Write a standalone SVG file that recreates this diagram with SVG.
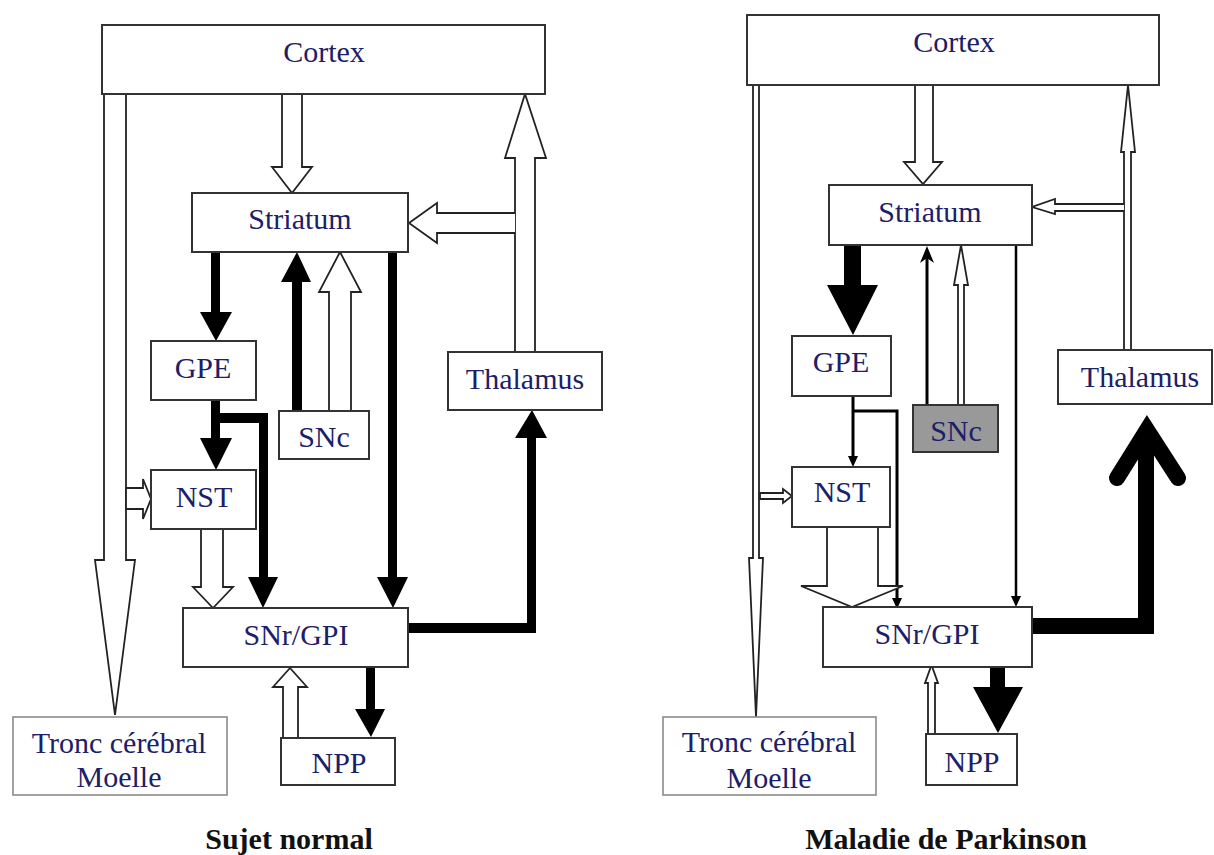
<svg xmlns="http://www.w3.org/2000/svg" width="1214" height="855" viewBox="0 0 1214 855">
<style>
.box{fill:#fff;stroke:#333;stroke-width:2}
.grey{fill:#999;stroke:#333;stroke-width:2}
.tronc{fill:#fff;stroke:#8a8a8a;stroke-width:1.6}
.lbl{font-family:"Liberation Serif","Times New Roman",serif;font-size:30px;fill:#1c2068;text-anchor:middle}
.cap{font-family:"Liberation Serif","Times New Roman",serif;font-size:30px;font-weight:bold;fill:#111;text-anchor:middle}
.hol{fill:#fff;stroke:#222;stroke-width:1.8;stroke-linejoin:miter}
.blk{fill:#000;stroke:none}
.thin{fill:none;stroke:#000;stroke-width:3}
.thin2{fill:none;stroke:#000;stroke-width:2.5}
</style>
<rect width="1214" height="855" fill="#fff"/>

<!-- ===== Left diagram: Sujet normal ===== -->
<g id="connectors-left">
  <polygon class="hol" points="282,94 282,167 272,167 292,193 312,167 302,167 302,94"/>
  <polygon class="hol" points="104,94 104,560 95,560 115,715 135,560 126,560 126,94"/>
  <polygon class="hol" points="126,488 143,488 143,479 151,499 143,519 143,509 126,509"/>
  <polygon class="blk" points="211,252 220,252 220,312 232,312 216,341 200,312 211,312"/>
  <polygon class="blk" points="211,400 220,400 220,438 232,438 216,470 200,438 211,438"/>
  <polygon class="blk" points="216,413 268,413 268,577 278,577 263,608 248,577 259,577 259,423 216,423"/>
  <polygon class="hol" points="201,529 201,587 193,587 213,608 233,587 223,587 223,529"/>
  <polygon class="blk" points="388,252 397,252 397,577 408,577 393,608 377,577 388,577"/>
  <polygon class="blk" points="292,411 292,282 281,282 297,252 311,282 302,282 302,411"/>
  <polygon class="hol" points="329,411 329,292 319,292 340,252 361,292 351,292 351,411"/>
  <polygon class="hol" points="515,352 515,158 505,158 525,94 546,158 535,158 535,352"/>
  <path class="hol" d="M515,213 L437,213 L437,203 L409,223 L437,243 L437,233 L515,233"/>
  <polygon class="blk" points="408,623 527,623 527,438 515,438 532,410 547,438 536,438 536,633 408,633"/>
  <polygon class="blk" points="366,667 375,667 375,709 385,709 371,737 355,709 366,709"/>
  <polygon class="hol" points="283,738 283,687 273,687 290,668 307,687 298,687 298,738"/>
</g>

<g id="L-cortex"><rect class="box" x="102" y="25" width="443" height="69"/><text class="lbl" x="324" y="62">Cortex</text></g>
<g id="L-striatum"><rect class="box" x="192" y="193" width="216" height="59"/><text class="lbl" x="300" y="229">Striatum</text></g>
<g id="L-gpe"><rect class="box" x="151" y="341" width="105" height="59"/><text class="lbl" x="203" y="378">GPE</text></g>
<g id="L-nst"><rect class="box" x="151" y="470" width="105" height="59"/><text class="lbl" x="204" y="507">NST</text></g>
<g id="L-snc"><rect class="box" x="279" y="411" width="90" height="48"/><text class="lbl" x="324" y="447">SNc</text></g>
<g id="L-thalamus"><rect class="box" x="448" y="352" width="154" height="58"/><text class="lbl" x="525" y="389">Thalamus</text></g>
<g id="L-snrgpi"><rect class="box" x="183" y="608" width="225" height="59"/><text class="lbl" x="296" y="645">SNr/GPI</text></g>
<g id="L-npp"><rect class="box" x="281" y="738" width="114" height="47"/><text class="lbl" x="339" y="773">NPP</text></g>
<g id="L-tronc"><rect class="tronc" x="13" y="717" width="214" height="78"/><text class="lbl" x="119" y="753">Tronc cérébral</text><text class="lbl" x="119" y="787">Moelle</text></g>
<g id="L-caption"><text class="cap" x="289" y="849">Sujet normal</text></g>

<!-- ===== Right diagram: Maladie de Parkinson ===== -->
<g id="connectors-right">
  <polygon class="hol" points="915,85 915,162 904,162 923,184 942,162 933,162 933,85"/>
  <polygon class="hol" points="753,85 753,558 749,558 756,717 763,558 759,558 759,85"/>
  <polygon class="hol" points="760,493 783,493 783,489 792,496 783,503 783,499 760,499"/>
  <polygon class="blk" points="844,245 861,245 861,285 878,285 853,335 827,285 844,285"/>
  <line class="thin" x1="853" y1="396" x2="853" y2="458"/>
  <polygon class="blk" points="848,456 858,456 853,467"/>
  <polyline class="thin" points="853,411 897,411 897,600"/>
  <polygon class="blk" points="892,598 902,598 897,609"/>
  <polygon class="hol" points="827,527 827,586 801,586 852,607 903,586 878,586 878,527"/>
  <line class="thin2" x1="1016" y1="245" x2="1016" y2="598"/>
  <polygon class="blk" points="1011,596 1021,596 1016,607"/>
  <line class="thin" x1="927" y1="405" x2="927" y2="252"/>
  <polygon class="blk" points="920,263 927,246 934,263 927,258"/>
  <polygon class="hol" points="958,405 958,285 954,285 961,245 968,285 964,285 964,405"/>
  <polygon class="hol" points="1124,350 1124,152 1121,152 1128,85 1135,152 1131,152 1131,350"/>
  <path class="hol" d="M1124,211 L1055,211 L1055,214 L1032,207 L1055,199 L1055,204 L1124,204"/>
  <polyline fill="none" stroke="#000" stroke-width="16" stroke-linejoin="miter" points="1032,626 1146,626 1146,440"/>
  <polyline fill="none" stroke="#000" stroke-width="16" stroke-linecap="round" stroke-linejoin="miter" points="1117,478 1147,430 1178,478"/>
  <polygon class="blk" points="990,667 1005,667 1005,687 1023,687 998,733 973,687 990,687"/>
  <polygon class="hol" points="928,734 928,683 925,683 931.5,665 938,683 935,683 935,734"/>
</g>

<g id="R-cortex"><rect class="box" x="747" y="15" width="412" height="70"/><text class="lbl" x="954" y="52">Cortex</text></g>
<g id="R-striatum"><rect class="box" x="829" y="185" width="203" height="60"/><text class="lbl" x="930" y="222">Striatum</text></g>
<g id="R-gpe"><rect class="box" x="792" y="336" width="99" height="60"/><text class="lbl" x="841" y="372">GPE</text></g>
<g id="R-snc"><rect class="grey" x="913" y="405" width="85" height="47"/><text class="lbl" x="956" y="441">SNc</text></g>
<g id="R-thalamus"><rect class="box" x="1058" y="350" width="154" height="54"/><text class="lbl" x="1140" y="387">Thalamus</text></g>
<g id="R-nst"><rect class="box" x="792" y="467" width="98" height="60"/><text class="lbl" x="842" y="502">NST</text></g>
<g id="R-snrgpi"><rect class="box" x="823" y="607" width="209" height="60"/><text class="lbl" x="927" y="644">SNr/GPI</text></g>
<g id="R-npp"><rect class="box" x="926" y="734" width="91" height="51"/><text class="lbl" x="972" y="772">NPP</text></g>
<g id="R-tronc"><rect class="tronc" x="663" y="717" width="213" height="78"/><text class="lbl" x="769" y="752">Tronc cérébral</text><text class="lbl" x="769" y="788">Moelle</text></g>
<g id="R-caption"><text class="cap" x="946" y="849">Maladie de Parkinson</text></g>
</svg>
